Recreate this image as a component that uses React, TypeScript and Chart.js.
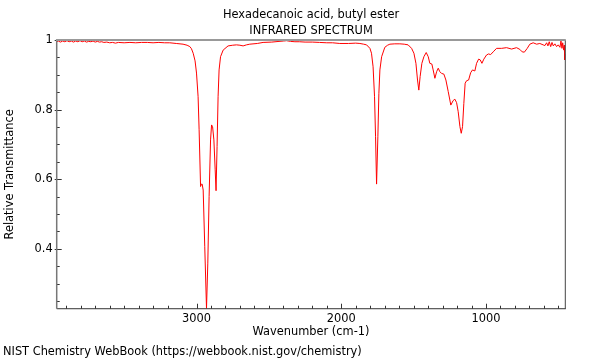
import React, { useEffect, useRef } from 'react';
import { Chart, registerables } from 'chart.js';

Chart.register(...registerables);

const titleLines = ['Hexadecanoic acid, butyl ester', 'INFRARED SPECTRUM'];
const xTitle = 'Wavenumber (cm-1)';
const yTitle = 'Relative Transmittance';
const footerText = 'NIST Chemistry WebBook (https://webbook.nist.gov/chemistry)';

const xMin = 452;
const xMax = 3966;
const yMin = 0.228;
const yMax = 1;

const xMajorTicks = [3000, 2000, 1000];
const xMinorTicks = [3900, 3800, 3700, 3600, 3500, 3400, 3300, 3200, 3100, 2900, 2800, 2700, 2600, 2500, 2400, 2300, 2200, 2100, 1900, 1800, 1700, 1600, 1500, 1400, 1300, 1200, 1100, 900, 800, 700, 600, 500];
const yMajorTicks = [0.4, 0.6, 0.8, 1];
const yMinorTicks = [0.25, 0.3, 0.35, 0.45, 0.5, 0.55, 0.65, 0.7, 0.75, 0.85, 0.9, 0.95];

const wavenumbers = [
  3966, 3955, 3940, 3925, 3910, 3895, 3880, 3865, 3850, 3835, 3820, 3805, 3790, 3775, 3760, 3745,
  3730, 3715, 3700, 3685, 3670, 3655, 3640, 3620, 3600, 3580, 3560, 3540, 3500, 3460, 3420, 3380,
  3340, 3300, 3260, 3220, 3185, 3140, 3093, 3065, 3046, 3035, 3023, 3010, 3000, 2989, 2982, 2972,
  2966, 2961, 2954, 2943, 2931, 2922, 2913, 2903, 2896, 2889, 2880, 2871, 2865, 2858, 2851, 2844,
  2834, 2816, 2782, 2750, 2724, 2700, 2678, 2655, 2632, 2580, 2540, 2480, 2430, 2400, 2378, 2350,
  2320, 2290, 2250, 2200, 2150, 2100, 2060, 2010, 1950, 1900, 1871, 1845, 1825, 1802, 1791, 1780,
  1770, 1763, 1756, 1747, 1740, 1733, 1721, 1699, 1680, 1664, 1630, 1595, 1565, 1538, 1514, 1498,
  1484, 1473, 1464, 1455, 1443, 1429, 1413, 1399, 1388, 1374, 1365, 1353, 1341, 1330, 1319, 1307,
  1291, 1277, 1261, 1243, 1227, 1215, 1203, 1192, 1180, 1171, 1162, 1153, 1144, 1134, 1120, 1106,
  1093, 1077, 1065, 1051, 1040, 1028, 1015, 996, 982, 968, 950, 927, 892, 858, 823, 789,
  766, 750, 735, 715, 697, 674, 650, 628, 605, 593, 581, 572, 563, 553, 544, 535,
  524, 512, 501, 489, 482, 475, 470, 463, 459, 456, 452,
];

const transmittance = [
  0.995, 0.997, 0.994, 0.997, 0.995, 0.998, 0.995, 0.997, 0.994, 0.997, 0.995, 0.998, 0.995, 0.997, 0.994, 0.996,
  0.995, 0.997, 0.994, 0.996, 0.994, 0.995, 0.993, 0.994, 0.992, 0.993, 0.991, 0.993, 0.992, 0.993, 0.992, 0.993,
  0.993, 0.992, 0.993, 0.992, 0.992, 0.990, 0.988, 0.985, 0.981, 0.975, 0.962, 0.940, 0.905, 0.837, 0.742, 0.579,
  0.586, 0.586, 0.569, 0.406, 0.229, 0.359, 0.55, 0.713, 0.756, 0.751, 0.713, 0.627, 0.567, 0.694, 0.837, 0.914,
  0.952, 0.971, 0.983, 0.985, 0.986, 0.985, 0.983, 0.986, 0.988, 0.990, 0.993, 0.994, 0.996, 0.997, 0.998, 0.996,
  0.995, 0.995, 0.994, 0.994, 0.993, 0.992, 0.992, 0.990, 0.990, 0.991, 0.990, 0.988, 0.986, 0.976, 0.962, 0.923,
  0.837, 0.722, 0.586, 0.722, 0.847, 0.914, 0.952, 0.979, 0.985, 0.988, 0.989, 0.989, 0.988, 0.986, 0.976, 0.962,
  0.933, 0.885, 0.856, 0.895, 0.933, 0.952, 0.964, 0.952, 0.933, 0.931, 0.914, 0.890, 0.909, 0.919, 0.909, 0.904,
  0.902, 0.885, 0.852, 0.813, 0.826, 0.830, 0.820, 0.794, 0.751, 0.732, 0.751, 0.818, 0.876, 0.883, 0.885, 0.906,
  0.914, 0.911, 0.933, 0.945, 0.943, 0.933, 0.945, 0.957, 0.960, 0.958, 0.966, 0.976, 0.976, 0.978, 0.974, 0.978,
  0.973, 0.966, 0.965, 0.976, 0.988, 0.992, 0.988, 0.990, 0.986, 0.984, 0.992, 0.983, 0.995, 0.981, 0.993, 0.983,
  0.989, 0.981, 0.986, 0.979, 0.997, 0.976, 0.992, 0.971, 0.985, 0.943, 0.960,
];

const FONT_SIZE = 11.4;

const framePlugin = {
  id: 'irFrame',
  afterDatasetsDraw(chart: any) {
    const { ctx, chartArea, scales } = chart;
    const { left, right, top, bottom } = chartArea;
    const xs = scales.x;
    const ys = scales.y;
    ctx.save();
    ctx.lineWidth = 1;
    ctx.strokeStyle = '#333';
    const seg = (x1: number, y1: number, x2: number, y2: number) => {
      ctx.beginPath();
      ctx.moveTo(x1, y1);
      ctx.lineTo(x2, y2);
      ctx.stroke();
    };
    for (const v of xMinorTicks) {
      const px = Math.round(xs.getPixelForValue(v)) + 0.5;
      seg(px, bottom, px, bottom - 3);
    }
    for (const v of xMajorTicks) {
      const px = Math.round(xs.getPixelForValue(v)) + 0.5;
      seg(px, bottom, px, bottom - 5);
    }
    for (const v of yMinorTicks) {
      const py = Math.round(ys.getPixelForValue(v)) + 0.5;
      seg(left, py, left + 3, py);
    }
    for (const v of yMajorTicks) {
      const py = Math.round(ys.getPixelForValue(v)) + 0.5;
      seg(left - 2, py, left + 5, py);
    }
    ctx.strokeStyle = '#444';
    ctx.lineWidth = 1;
    seg(right, top, right, bottom);
    ctx.strokeStyle = '#333';
    seg(left, bottom, right + 0.5, bottom);
    ctx.strokeStyle = '#777';
    ctx.lineWidth = 1.5;
    seg(left, top, left, bottom);
    ctx.strokeStyle = '#999';
    ctx.lineWidth = 2;
    seg(left - 0.75, top, right + 0.5, top);
    ctx.restore();
  },
};

export default function App() {
  const ref = useRef<HTMLCanvasElement>(null);

  useEffect(() => {
    if (!ref.current) return;
    Chart.defaults.font.family = "'DejaVu Sans', sans-serif";
    Chart.defaults.color = '#000';
    const points = wavenumbers.map((w, i) => ({ x: w, y: transmittance[i] }));
    const chart = new Chart(ref.current, {
      type: 'line',
      data: {
        datasets: [
          {
            data: points,
            borderColor: '#ff0000',
            borderWidth: 1,
            pointRadius: 0,
            tension: 0,
            fill: false,
          },
        ],
      },
      options: {
        responsive: false,
        animation: false,
        devicePixelRatio: 1,
        parsing: false,
        layout: { padding: { left: 3, right: 34.7, top: 0, bottom: 1 } },
        plugins: {
          legend: { display: false },
          tooltip: { enabled: false },
          title: {
            display: true,
            text: titleLines,
            fullSize: false,
            color: '#000',
            font: { size: FONT_SIZE, weight: 'normal', lineHeight: 16 / FONT_SIZE },
            padding: { top: 7, bottom: 1 },
          },
          subtitle: {
            display: true,
            text: footerText,
            position: 'bottom',
            align: 'start',
            color: '#000',
            font: { size: FONT_SIZE, weight: 'normal' },
            padding: { top: 0, bottom: 0 },
          },
        },
        scales: {
          x: {
            type: 'linear',
            reverse: true,
            min: xMin,
            max: xMax,
            afterBuildTicks: (s: any) => {
              s.ticks = xMajorTicks.map((v) => ({ value: v }));
            },
            afterFit: (s: any) => {
              s.height = 36.6;
            },
            ticks: {
              padding: 3.5,
              color: '#000',
              font: { size: FONT_SIZE },
              maxRotation: 0,
              autoSkip: false,
              callback: (v: any) => String(v),
            },
            grid: { display: false, drawTicks: false },
            border: { display: false },
            title: {
              display: true,
              text: xTitle,
              color: '#000',
              font: { size: FONT_SIZE },
              padding: { top: 0, bottom: 6.4 },
            },
          },
          y: {
            type: 'linear',
            min: yMin,
            max: yMax,
            afterBuildTicks: (s: any) => {
              s.ticks = yMajorTicks.map((v) => ({ value: v }));
            },
            afterFit: (s: any) => {
              s.width = 53.7;
            },
            ticks: {
              padding: 4,
              color: '#000',
              font: { size: FONT_SIZE },
              callback: (v: any) => String(v),
            },
            grid: { display: false, drawTicks: false },
            border: { display: false },
            title: {
              display: true,
              text: yTitle,
              color: '#000',
              font: { size: FONT_SIZE },
              padding: { top: 0, bottom: 0 },
            },
          },
        },
      },
      plugins: [framePlugin],
    } as any);
    return () => chart.destroy();
  }, []);

  return (
    <div style={{ position: 'fixed', left: 0, top: 0, width: 600, height: 360, background: '#fff' }}>
      <canvas ref={ref} width={600} height={360} style={{ display: 'block', width: 600, height: 360 }} />
    </div>
  );
}
